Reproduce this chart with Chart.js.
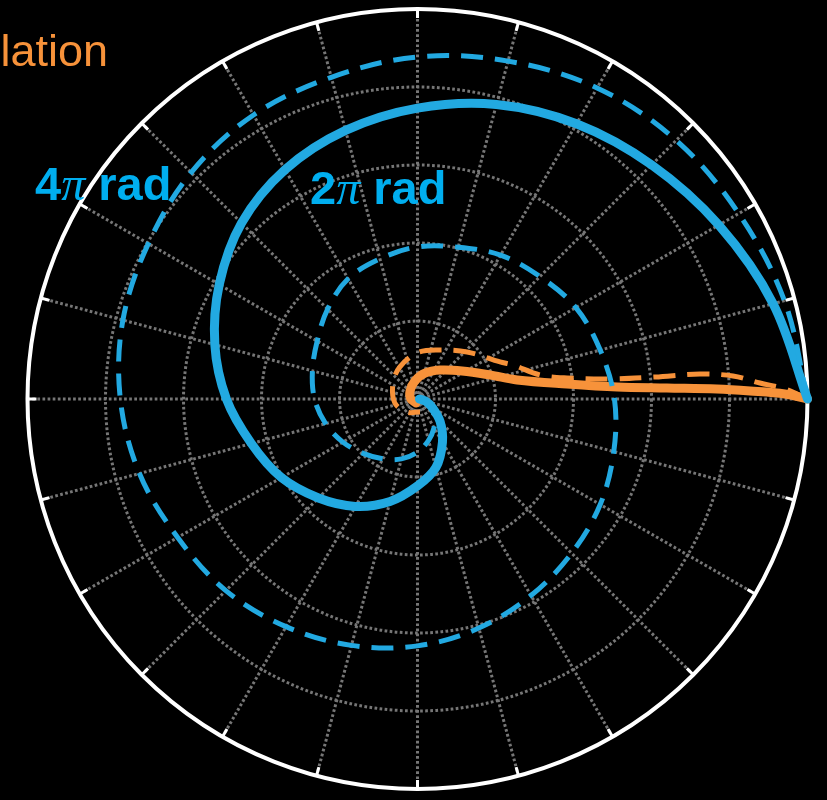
<!DOCTYPE html>
<html>
<head>
<meta charset="utf-8">
<script src="https://cdn.jsdelivr.net/npm/chart.js@4.4.0/dist/chart.umd.min.js"></script>
<style>
  html, body { margin: 0; padding: 0; background: #000; }
  canvas { display: block; }
</style>
</head>
<body>
<canvas id="polar" width="827" height="800"></canvas>
<script>
// angles in degrees, counter-clockwise from 3 o'clock; radius as a fraction of the outer ring
const blueSolidTheta = [0, 15, 30, 45, 60, 75, 90, 105, 120, 135, 150, 165, 180, 195, 210, 225, 240, 255, 270, 285, 300, 315, 330, 345, 360];
const blueSolidR = [1.0, 0.944, 0.892, 0.849, 0.815, 0.782, 0.746, 0.713, 0.679, 0.638, 0.587, 0.538, 0.49, 0.441, 0.403, 0.359, 0.318, 0.272, 0.223, 0.182, 0.128, 0.082, 0.044, 0.021, 0.005];

const blueDashTheta = [0, 15, 30, 45, 60, 75, 90, 105, 120, 135, 150, 165, 180, 195, 210, 225, 240, 255, 270, 285, 300, 315, 330, 345,
  360, 375, 390, 405, 420, 435, 450, 465, 480, 495, 510, 525, 540, 555, 570, 585, 600, 615, 630, 645, 660, 675, 690, 705, 720];
const blueDashR = [1.0, 0.974, 0.951, 0.938, 0.921, 0.897, 0.877, 0.854, 0.841, 0.821, 0.797, 0.782, 0.762, 0.738, 0.71, 0.695, 0.674, 0.654, 0.633, 0.608, 0.582, 0.559, 0.541, 0.521,
  0.505, 0.485, 0.469, 0.444, 0.426, 0.403, 0.39, 0.372, 0.356, 0.326, 0.297, 0.279, 0.264, 0.244, 0.221, 0.197, 0.177, 0.159, 0.136, 0.11, 0.085, 0.062, 0.038, 0.018, 0];

const orangeSolidTheta = [0, 0.78, 1.38, 1.91, 2.52, 3.44, 5.73, 10.8, 18.3, 32.2, 52.2, 73.9, 97.9, 133, 180, 249];
const orangeSolidR = [1.0, 0.942, 0.853, 0.768, 0.64, 0.513, 0.385, 0.26, 0.196, 0.135, 0.094, 0.069, 0.047, 0.028, 0.017, 0.011];

const orangeDashTheta = [0, 1.56, 2.67, 4.17, 5.06, 5.29, 5.93, 8.0, 11.1, 19.6, 24.2, 43.5, 68.3, 90.6, 118.7, 146.9, 190, 231, 281];
const orangeDashR = [1.0, 0.943, 0.879, 0.811, 0.727, 0.612, 0.496, 0.387, 0.32, 0.26, 0.232, 0.175, 0.135, 0.118, 0.094, 0.075, 0.059, 0.043, 0.034];

const ringTicks = [0.2, 0.4, 0.6, 0.8];
const spokeAngles = [0, 15, 30, 45, 60, 75, 90, 105, 120, 135, 150, 165, 180, 195, 210, 225, 240, 255, 270, 285, 300, 315, 330, 345];

const BLUE = '#22a9e1';
const BLUE_TEXT = '#00aeef';
const ORANGE = '#f7923a';
const GRID = '#767676';

function toXY(thetas, radii) {
  return thetas.map((t, i) => {
    const a = t * Math.PI / 180;
    return { x: radii[i] * Math.cos(a), y: radii[i] * Math.sin(a) };
  });
}

// polar grid drawn from the x/y scales
const polarGrid = {
  id: 'polarGrid',
  beforeDatasetsDraw(chart) {
    const { ctx, scales: { x, y } } = chart;
    const cx = x.getPixelForValue(0);
    const cy = y.getPixelForValue(0);
    const R = x.getPixelForValue(1) - cx;
    ctx.save();
    ctx.strokeStyle = GRID;
    ctx.lineWidth = 3;
    ctx.setLineDash([2.7, 2.4]);
    ringTicks.forEach(r => {
      ctx.beginPath();
      ctx.arc(cx, cy, x.getPixelForValue(r) - cx, 0, Math.PI * 2);
      ctx.stroke();
    });
    spokeAngles.forEach(a => {
      const rad = a * Math.PI / 180;
      ctx.beginPath();
      ctx.moveTo(cx, cy);
      ctx.lineTo(cx + R * Math.cos(rad), cy - R * Math.sin(rad));
      ctx.stroke();
    });
    ctx.setLineDash([]);
    ctx.strokeStyle = '#ffffff';
    ctx.lineWidth = 4;
    ctx.beginPath();
    ctx.arc(cx, cy, R, 0, Math.PI * 2);
    ctx.stroke();
    ctx.lineWidth = 3;
    spokeAngles.forEach(a => {
      const rad = a * Math.PI / 180;
      ctx.beginPath();
      ctx.moveTo(cx + R * Math.cos(rad), cy - R * Math.sin(rad));
      ctx.lineTo(cx + (R - 9) * Math.cos(rad), cy - (R - 9) * Math.sin(rad));
      ctx.stroke();
    });
    ctx.restore();
  }
};

function drawPiLabel(ctx, digit, x, baseline) {
  const sans = 'bold 47px "Liberation Sans", Arial, sans-serif';
  const serif = 'italic 48px "Liberation Serif", "Times New Roman", serif';
  ctx.font = sans;
  ctx.fillText(digit, x, baseline);
  x += ctx.measureText(digit).width;
  ctx.font = serif;
  ctx.fillText('\u03c0', x, baseline);
  x += ctx.measureText('\u03c0').width;
  ctx.font = sans;
  ctx.fillText(' rad', x, baseline);
}

const labels = {
  id: 'labels',
  afterDatasetsDraw(chart) {
    const ctx = chart.ctx;
    ctx.save();
    ctx.textBaseline = 'alphabetic';
    ctx.fillStyle = ORANGE;
    ctx.font = '45px "Liberation Sans", Arial, sans-serif';
    ctx.textAlign = 'right';
    ctx.fillText('Simulation', 108, 66);
    ctx.textAlign = 'left';
    ctx.fillStyle = BLUE_TEXT;
    drawPiLabel(ctx, '4', 35, 200);
    drawPiLabel(ctx, '2', 310, 204);
    ctx.restore();
  }
};

const lineBase = { showLine: true, pointRadius: 0, tension: 0.35, clip: false, borderJoinStyle: 'round' };

new Chart(document.getElementById('polar'), {
  type: 'scatter',
  data: {
    datasets: [
      Object.assign({ label: '4\u03c0 rad', data: toXY(blueDashTheta, blueDashR), borderColor: BLUE, borderWidth: 5, borderDash: [22, 12] }, lineBase),
      Object.assign({ label: '2\u03c0 rad', data: toXY(blueSolidTheta, blueSolidR), borderColor: BLUE, borderWidth: 9, borderCapStyle: 'round' }, lineBase),
      Object.assign({ label: 'Simulation', data: toXY(orangeSolidTheta, orangeSolidR), borderColor: ORANGE, borderWidth: 9, borderCapStyle: 'round' }, lineBase),
      Object.assign({ label: 'Simulation (dashed)', data: toXY(orangeDashTheta, orangeDashR), borderColor: ORANGE, borderWidth: 5, borderDash: [22, 12] }, lineBase)
    ]
  },
  options: {
    responsive: false,
    animation: false,
    devicePixelRatio: 1,
    layout: { padding: { left: 27.5, right: 19.5, top: 9, bottom: 11 } },
    scales: {
      x: { type: 'linear', min: -1, max: 1, display: false },
      y: { type: 'linear', min: -1, max: 1, display: false }
    },
    plugins: { legend: { display: false }, tooltip: { enabled: false } }
  },
  plugins: [polarGrid, labels]
});
</script>
</body>
</html>
